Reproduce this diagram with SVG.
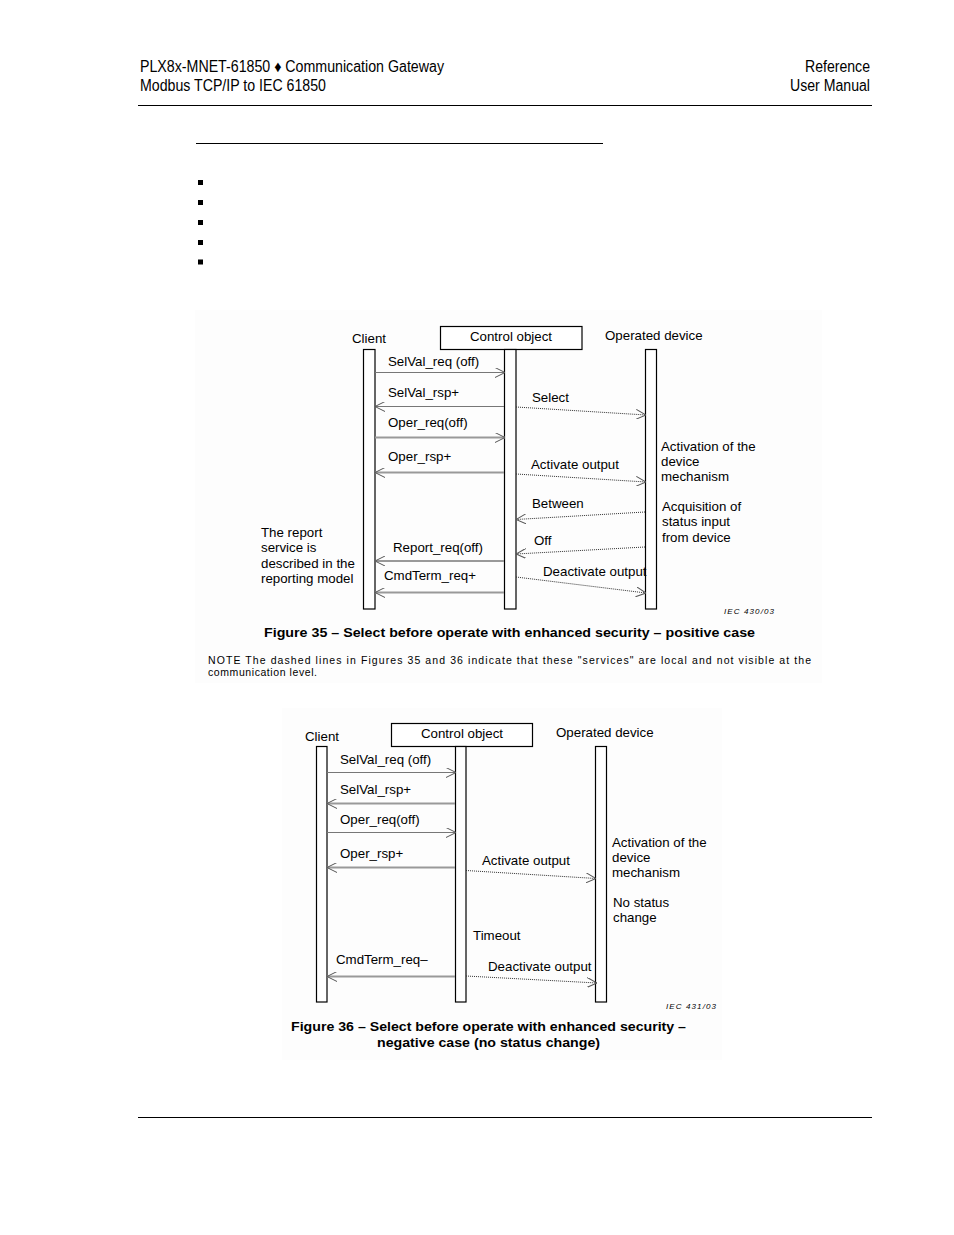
<svg xmlns="http://www.w3.org/2000/svg" width="954" height="1235" viewBox="0 0 954 1235">
<defs>
<style>
text{font-family:"Liberation Sans",Arial,sans-serif;fill:#000}
.hd{font-size:16px}
.lb{font-size:13.3px}
.cap{font-size:12.5px;font-weight:bold}
.note{font-size:10.5px}
.iec{font-size:8px;font-style:italic}
.bg{fill:#fdfdfd;stroke:none}
.bar{fill:#fff;stroke:#000;stroke-width:1.2}
.box{fill:#fff;stroke:#000;stroke-width:1.2}
.msg{stroke:#777;stroke-width:1.2;fill:none}
.msgb{stroke:#999;stroke-width:2;fill:none}
.dot{stroke:#333;stroke-width:1;stroke-dasharray:1 1;fill:none}
.rule{stroke:#000;stroke-width:1}
</style>
<marker id="ah" viewBox="0 0 10 10" refX="10" refY="5" markerWidth="10" markerHeight="10" markerUnits="userSpaceOnUse" orient="auto">
<path d="M0,0 L10,5 L0,10" fill="none" stroke="#555" stroke-width="1"/>
</marker>
</defs>

<g id="header">
<text class="hd" x="140" y="72" textLength="304" lengthAdjust="spacingAndGlyphs">PLX8x-MNET-61850 ♦ Communication Gateway</text>
<text class="hd" x="140" y="91" textLength="186" lengthAdjust="spacingAndGlyphs">Modbus TCP/IP to IEC 61850</text>
<text class="hd" x="805" y="72" textLength="65" lengthAdjust="spacingAndGlyphs">Reference</text>
<text class="hd" x="790" y="91" textLength="80" lengthAdjust="spacingAndGlyphs">User Manual</text>
<line class="rule" x1="138" y1="105.5" x2="872" y2="105.5"/>
<line class="rule" x1="196" y1="143.5" x2="603" y2="143.5"/>
<rect x="198" y="180" width="5" height="5"/>
<rect x="198" y="200" width="5" height="5"/>
<rect x="198" y="220" width="5" height="5"/>
<rect x="198" y="240" width="5" height="5"/>
<rect x="198" y="259.5" width="5" height="5"/>
<line class="rule" x1="138" y1="1117.5" x2="872" y2="1117.5"/>
</g>

<rect class="bg" x="195" y="310" width="627" height="373"/>
<rect class="bg" x="282" y="708" width="440" height="352"/>

<!-- Figure 35 -->
<g id="f35-client">
<rect class="bar" x="363.5" y="349.5" width="11.5" height="259.5"/>
<text class="lb" x="352" y="343">Client</text>
</g>
<g id="f35-control">
<rect class="box" x="440.5" y="326.5" width="141.5" height="23"/>
<text class="lb" x="511" y="341" text-anchor="middle">Control object</text>
<rect class="bar" x="504.5" y="349.5" width="11.5" height="259.5"/>
</g>
<g id="f35-device">
<rect class="bar" x="645.5" y="349.5" width="11" height="259.5"/>
<text class="lb" x="605" y="340">Operated device</text>
</g>

<g id="f35-connectors">
<line class="msg" x1="375" y1="372.5" x2="505" y2="372.5" marker-end="url(#ah)"/>
<line class="msg" x1="504" y1="406.5" x2="375" y2="406.5" marker-end="url(#ah)"/>
<line class="dot" x1="516" y1="407" x2="646" y2="415" marker-end="url(#ah)"/>
<line class="msgb" x1="375" y1="437.5" x2="505" y2="437.5" marker-end="url(#ah)"/>
<line class="msgb" x1="504" y1="472.5" x2="375" y2="472.5" marker-end="url(#ah)"/>
<line class="dot" x1="516" y1="474" x2="646" y2="482" marker-end="url(#ah)"/>
<line class="dot" x1="645" y1="512" x2="516" y2="519.5" marker-end="url(#ah)"/>
<line class="dot" x1="645" y1="547" x2="516" y2="554" marker-end="url(#ah)"/>
<line class="msgb" x1="504" y1="561" x2="375" y2="561" marker-end="url(#ah)"/>
<line class="msgb" x1="504" y1="592.5" x2="375" y2="592.5" marker-end="url(#ah)"/>
<line class="dot" x1="516" y1="577" x2="646" y2="593" marker-end="url(#ah)"/>
</g>

<g id="f35-labels">
<text class="lb" x="388" y="366">SelVal_req (off)</text>
<text class="lb" x="388" y="397">SelVal_rsp+</text>
<text class="lb" x="532" y="402">Select</text>
<text class="lb" x="388" y="427">Oper_req(off)</text>
<text class="lb" x="388" y="461">Oper_rsp+</text>
<text class="lb" x="531" y="469">Activate output</text>
<text class="lb" x="661" y="451">Activation of the</text>
<text class="lb" x="661" y="466">device</text>
<text class="lb" x="661" y="481">mechanism</text>
<text class="lb" x="532" y="508">Between</text>
<text class="lb" x="662" y="511">Acquisition of</text>
<text class="lb" x="662" y="526">status input</text>
<text class="lb" x="662" y="542">from device</text>
<text class="lb" x="534" y="545">Off</text>
<text class="lb" x="393" y="552">Report_req(off)</text>
<text class="lb" x="261" y="537">The report</text>
<text class="lb" x="261" y="552">service is</text>
<text class="lb" x="261" y="568">described in the</text>
<text class="lb" x="261" y="583">reporting model</text>
<text class="lb" x="384" y="580">CmdTerm_req+</text>
<text class="lb" x="543" y="576">Deactivate output</text>
<text class="iec" x="724" y="614" textLength="50" lengthAdjust="spacing">IEC   430/03</text>
<text class="cap" x="264" y="637" textLength="491" lengthAdjust="spacingAndGlyphs">Figure 35 – Select before operate with enhanced security – positive case</text>
<text class="note" x="208" y="664" textLength="603" lengthAdjust="spacing">NOTE  The dashed lines in Figures 35 and 36 indicate that these "services" are local and not visible at the</text>
<text class="note" x="208" y="676" textLength="109" lengthAdjust="spacing">communication level.</text>
</g>

<!-- Figure 36 -->
<g id="f36-client">
<rect class="bar" x="316.5" y="746.5" width="10.5" height="255.5"/>
<text class="lb" x="305" y="741">Client</text>
</g>
<g id="f36-control">
<rect class="box" x="391.5" y="723.5" width="141" height="23"/>
<text class="lb" x="462" y="738" text-anchor="middle">Control object</text>
<rect class="bar" x="455.5" y="746.5" width="10.5" height="255.5"/>
</g>
<g id="f36-device">
<rect class="bar" x="595.5" y="746.5" width="11" height="255.5"/>
<text class="lb" x="556" y="737">Operated device</text>
</g>

<g id="f36-connectors">
<line class="msg" x1="327" y1="772.5" x2="456" y2="772.5" marker-end="url(#ah)"/>
<line class="msgb" x1="455" y1="803.5" x2="327" y2="803.5" marker-end="url(#ah)"/>
<line class="msg" x1="327" y1="832.5" x2="456" y2="832.5" marker-end="url(#ah)"/>
<line class="msgb" x1="455" y1="867.5" x2="327" y2="867.5" marker-end="url(#ah)"/>
<line class="dot" x1="466" y1="870.5" x2="596" y2="878.5" marker-end="url(#ah)"/>
<line class="msgb" x1="455" y1="976.5" x2="327" y2="976.5" marker-end="url(#ah)"/>
<line class="dot" x1="466" y1="976" x2="597" y2="983" marker-end="url(#ah)"/>
</g>

<g id="f36-labels">
<text class="lb" x="340" y="764">SelVal_req (off)</text>
<text class="lb" x="340" y="794">SelVal_rsp+</text>
<text class="lb" x="340" y="824">Oper_req(off)</text>
<text class="lb" x="340" y="858">Oper_rsp+</text>
<text class="lb" x="482" y="865">Activate output</text>
<text class="lb" x="612" y="847">Activation of the</text>
<text class="lb" x="612" y="862">device</text>
<text class="lb" x="612" y="877">mechanism</text>
<text class="lb" x="613" y="907">No status</text>
<text class="lb" x="613" y="922">change</text>
<text class="lb" x="473" y="940">Timeout</text>
<text class="lb" x="336" y="964">CmdTerm_req–</text>
<text class="lb" x="488" y="971">Deactivate output</text>
<text class="iec" x="666" y="1009" textLength="50" lengthAdjust="spacing">IEC   431/03</text>
<text class="cap" x="291" y="1031" textLength="395" lengthAdjust="spacingAndGlyphs">Figure 36 – Select before operate with enhanced security –</text>
<text class="cap" x="377" y="1047" textLength="223" lengthAdjust="spacingAndGlyphs">negative case (no status change)</text>
</g>
</svg>
